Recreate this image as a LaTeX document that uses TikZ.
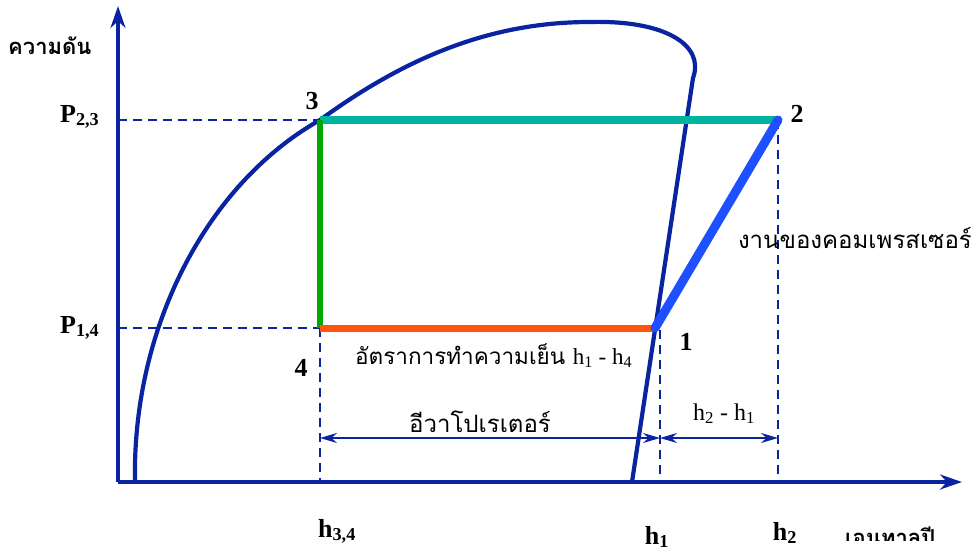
\documentclass[tikz,border=0pt]{standalone}
\usepackage{fontspec}
\setmainfont{Liberation Serif}
\newfontfamily\thai[Script=Thai]{Loma}
\usetikzlibrary{arrows.meta}
\definecolor{axisblue}{RGB}{10,35,160}
\definecolor{teal}{RGB}{0,180,160}
\definecolor{cgreen}{RGB}{0,168,0}
\definecolor{corange}{RGB}{255,85,10}
\definecolor{cblue}{RGB}{30,80,255}
\tikzset{
  axis/.style={draw=axisblue,line width=4.2pt,-{Stealth[length=22pt,width=15pt]}},
  dome/.style={draw=axisblue,line width=4.2pt},
  guide/.style={draw=axisblue,line width=1.8pt,dash pattern=on 9pt off 6pt},
  dim/.style={draw=axisblue,line width=1.8pt,{Stealth[length=17pt,width=10pt]}-{Stealth[length=17pt,width=10pt]}},
  lbl/.style={font=\fontsize{26}{28}\selectfont\bfseries,inner sep=0pt},
  thaitext/.style={font=\thai\fontsize{24}{28}\selectfont,inner sep=0pt},
}
\begin{document}
\begin{tikzpicture}[x=1pt,y=-1pt]
\useasboundingbox (0,0) rectangle (974,552);
% points
\coordinate (o) at (118,482);
\coordinate (yend) at (118,6);
\coordinate (xend) at (962,482);
\coordinate (p3) at (320,120);
\coordinate (p2) at (778,120);
\coordinate (p4) at (320,328);
\coordinate (p1) at (655,328);
\coordinate (ya) at (118,120);
\coordinate (yb) at (118,328);
\coordinate (b4) at (320,482);
\coordinate (t1) at (660,330);
\coordinate (b1) at (660,482);
\coordinate (b2) at (778,482);
\coordinate (d4) at (320,438);
\coordinate (d1) at (660,438);
\coordinate (d2) at (778,438);
% dome
\draw[dome] (135,482) .. controls (132,330) and (205,185) .. (p3)
  .. controls (405,58) and (490,22) .. (590,22)
  .. controls (665,20) and (705,45) .. (693,78) -- (632,482);
% guides
\draw[guide] (ya) -- (p3);
\draw[guide] (yb) -- (p4);
\draw[guide] (p4) -- (b4);
\draw[guide] (t1) -- (b1);
\draw[guide] (p2) -- (b2);
% dimensions
\draw[dim] (d4) -- (d1);
\draw[dim] (d1) -- (d2);
% cycle
\draw[teal,line width=8pt] (p3) -- (p2);
\draw[cgreen,line width=6pt] (p3) -- (p4);
\draw[corange,line width=7pt] (p4) -- (p1);
\draw[cblue,line width=9pt,line cap=round] (p1) -- (p2);
% axes
\draw[axis] (o) -- (yend);
\draw[axis] (o) -- (xend);
% labels
\node[lbl,anchor=base west] (lp23) at (60,122) {P\textsubscript{2,3}};
\node[lbl,anchor=base west] (lp14) at (60,333) {P\textsubscript{1,4}};
\node[lbl] (l3) at (312,101) {3};
\node[lbl] (l2) at (797,114) {2};
\node[lbl] (l1) at (686,342) {1};
\node[lbl] (l4) at (301,368) {4};
\node[lbl,anchor=base] (lh34) at (337,537) {h\textsubscript{3,4}};
\node[lbl,anchor=base] (lh1) at (657,544) {h\textsubscript{1}};
\node[lbl,anchor=base] (lh2) at (785,540) {h\textsubscript{2}};
\node[font=\thai\bfseries\fontsize{22}{26}\selectfont,inner sep=0pt,anchor=west] (lp) at (8,46) {ความดัน};
\node[thaitext,anchor=base east] (lw) at (972,248) {งานของคอมเพรสเซอร์};
\node[font=\thai\fontsize{22.5}{28}\selectfont,inner sep=0pt,anchor=base west] (lq) at (355,364) {อัตราการทำความเย็น {\rmfamily\fontsize{23}{28}\selectfont h\textsubscript{1} - h\textsubscript{4}}};
\node[thaitext,anchor=base] (le) at (480,432) {อีวาโปเรเตอร์};
\node[font=\fontsize{24}{28}\selectfont,inner sep=0pt,anchor=base] (ld) at (724,420) {h\textsubscript{2} - h\textsubscript{1}};
\begin{scope}
\clip (830,500) rectangle (974,540);
\node[font=\thai\bfseries\fontsize{22}{26}\selectfont,inner sep=0pt,anchor=base west] (lx) at (845,545) {เอนทาลปี};
\end{scope}
\end{tikzpicture}
\end{document}
